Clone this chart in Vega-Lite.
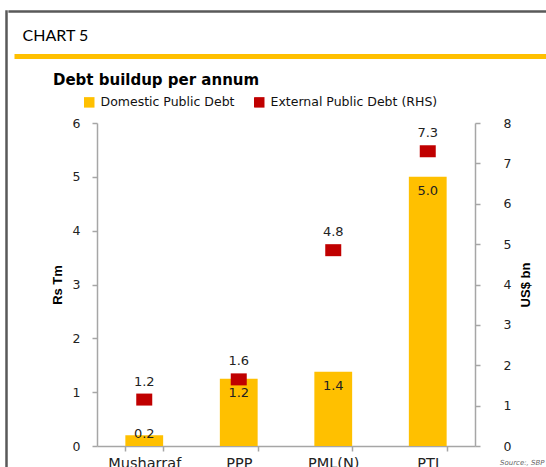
{
  "$schema": "https://vega.github.io/schema/vega-lite/v6.json",
  "padding": {"left": 5, "top": 10, "right": 0, "bottom": 0},
  "background": "white",
  "spacing": 0,
  "resolve": {"scale": {"color": "independent"}, "legend": {"color": "independent"}},
  "config": {
    "font": "DejaVu Sans",
    "view": {"stroke": null},
    "axis": {"domainColor": "#A6A6A6", "domainWidth": 1.5, "tickColor": "#A6A6A6", "tickWidth": 1.5, "tickSize": 5, "grid": false, "labelColor": "#222", "labelFont": "DejaVu Sans", "labelFontSize": 12.5, "titleColor": "#000"}
  },
  "datasets": {
    "debt": [
      {"period": "Musharraf", "domestic": 0.2, "external": 1.15, "domText": "0.2", "extText": "1.2"},
      {"period": "PPP", "domestic": 1.25, "external": 1.65, "domText": "1.2", "extText": "1.6"},
      {"period": "PML(N)", "domestic": 1.38, "external": 4.85, "domText": "1.4", "extText": "4.8"},
      {"period": "PTI", "domestic": 5.0, "external": 7.3, "domText": "5.0", "extText": "7.3"}
    ]
  },
  "hconcat": [
    {
      "width": 1,
      "height": 480,
      "view": {"stroke": "#595959", "strokeWidth": 1.5},
      "data": {"values": []},
      "mark": "point",
      "encoding": {}
    },
    {
      "center": true,
      "spacing": 13,
      "resolve": {"scale": {"color": "independent"}, "legend": {"color": "independent"}},
      "vconcat": [
        {
          "width": 622,
          "height": 1,
          "view": {"stroke": "#595959", "strokeWidth": 1.5},
          "data": {"values": []},
          "mark": "point",
          "encoding": {}
        },
        {
          "center": true,
          "spacing": 14,
          "resolve": {"scale": {"color": "independent"}, "legend": {"color": "independent"}},
          "vconcat": [
            {
              "width": 606,
              "height": 1,
              "view": {"stroke": "#FFC000", "strokeWidth": 4},
              "title": {"text": "CHART 5", "anchor": "start", "dx": 6, "font": "Lato", "fontSize": 16, "fontWeight": "normal", "color": "#000", "offset": 12},
              "data": {"values": []},
              "mark": "point",
              "encoding": {}
            },
            {
              "width": 378,
              "height": 323,
              "title": {"text": "Debt buildup per annum", "anchor": "start", "frame": "group", "dx": -44, "font": "DejaVu Sans", "fontSize": 15, "fontWeight": "bold", "color": "#000", "offset": 8},
              "data": {"name": "debt"},
              "encoding": {
                "x": {
                  "field": "period", "type": "nominal", "sort": ["Musharraf", "PPP", "PML(N)", "PTI"],
                  "scale": {"paddingInner": 0.6, "paddingOuter": 0.3},
                  "axis": {"title": "Source:, SBP", "titleFontSize": 7, "titleFontStyle": "italic", "titleFontWeight": "normal", "titleColor": "#666", "titleAlign": "right", "titleBaseline": "middle", "titleX": 447, "titleY": 16, "labelAngle": 0, "tickBand": "extent", "labelPadding": 5, "labelFontSize": 14.5}
                }
              },
              "layer": [
                {
                  "layer": [
                    {
                      "mark": {"type": "bar"},
                      "encoding": {
                        "y": {"field": "domestic", "type": "quantitative", "scale": {"domain": [0, 6]},
                          "axis": {"title": "Rs Tm", "values": [0, 1, 2, 3, 4, 5, 6], "format": "d", "titleFont": "Liberation Sans", "titleFontWeight": "bold", "titleFontSize": 13, "titlePadding": 8, "labelPadding": 12}},
                        "color": {"datum": "Domestic Public Debt", "type": "nominal",
                          "scale": {"domain": ["Domestic Public Debt", "External Public Debt (RHS)"], "range": ["#FFC000", "#C00000"]},
                          "legend": {"title": null, "orient": "none", "legendX": -14, "legendY": -27, "direction": "horizontal", "symbolType": "square", "symbolSize": 110, "symbolStrokeWidth": 0, "labelFont": "DejaVu Sans", "labelFontSize": 12.5, "labelColor": "#111", "columnPadding": 18, "labelOffset": 5, "labelLimit": 300}}
                      }
                    },
                    {
                      "transform": [{"filter": "datum.period !== 'Musharraf'"}],
                      "mark": {"type": "text", "baseline": "middle", "dy": 14, "fontSize": 13, "color": "#222"},
                      "encoding": {"y": {"field": "domestic", "type": "quantitative"}, "text": {"field": "domText"}}
                    },
                    {
                      "transform": [{"filter": "datum.period === 'Musharraf'"}],
                      "mark": {"type": "text", "baseline": "middle", "dy": -1, "fontSize": 13, "color": "#222"},
                      "encoding": {"y": {"field": "domestic", "type": "quantitative"}, "text": {"field": "domText"}}
                    }
                  ]
                },
                {
                  "layer": [
                    {
                      "mark": {"type": "point", "shape": "M-1,-0.75L1,-0.75L1,0.75L-1,0.75Z", "filled": true, "size": 256, "opacity": 1},
                      "encoding": {
                        "y": {"field": "external", "type": "quantitative", "scale": {"domain": [0, 8]},
                          "axis": {"orient": "right", "title": "US$ bn", "values": [0, 1, 2, 3, 4, 5, 6, 7, 8], "format": "d", "titleAngle": 270, "titleFont": "Liberation Sans", "titleFontWeight": "bold", "titleFontSize": 13, "titlePadding": 22, "labelPadding": 23}},
                        "color": {"datum": "External Public Debt (RHS)", "type": "nominal"}
                      }
                    },
                    {
                      "mark": {"type": "text", "baseline": "middle", "dy": -18, "fontSize": 13, "color": "#222"},
                      "encoding": {"y": {"field": "external", "type": "quantitative"}, "text": {"field": "extText"}}
                    }
                  ]
                }
              ],
              "resolve": {"scale": {"y": "independent"}}
            }
          ]
        }
      ]
    }
  ]
}
